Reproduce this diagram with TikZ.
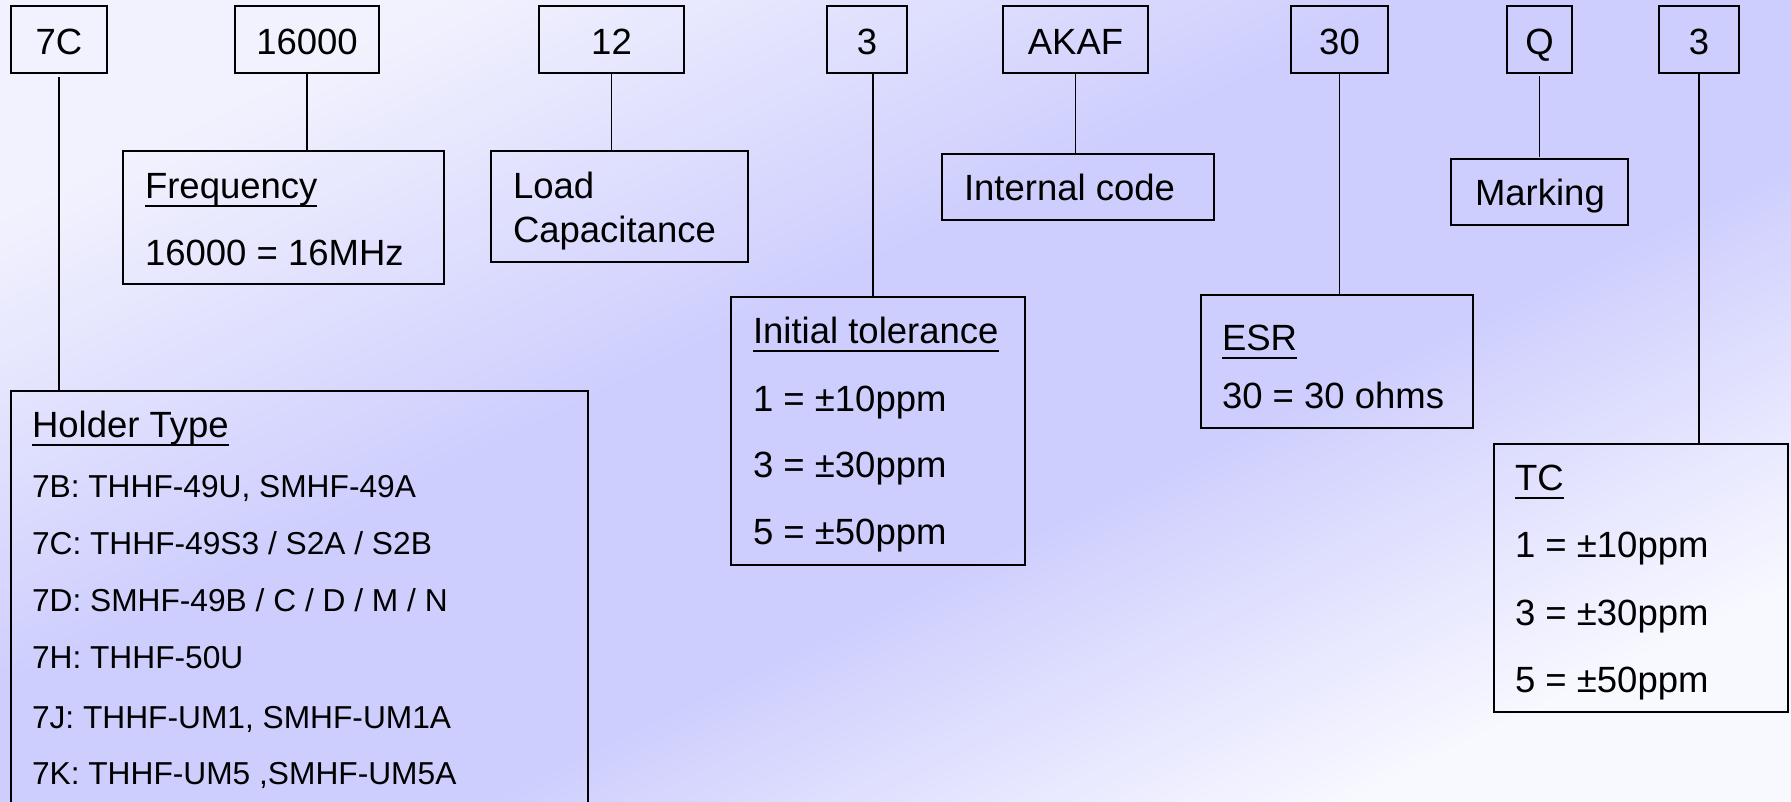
\documentclass[tikz,border=0pt]{standalone}
\usepackage{fontspec}
\setmainfont{Liberation Sans}
\definecolor{bgL}{RGB}{242,242,254}
\definecolor{bgM}{RGB}{206,206,254}
\definecolor{bgR}{RGB}{248,248,255}
\pgfdeclareverticalshading{bgshade}{100bp}{color(0bp)=(bgR); color(25bp)=(bgR); color(42bp)=(bgM); color(56bp)=(bgM); color(75bp)=(bgL); color(100bp)=(bgL)}
\newcommand{\ulx}[1]{\setbox0\hbox{#1}\rlap{\rule[-9pt]{\wd0}{2pt}}\box0}
\tikzset{
  box/.style={draw=black, line width=1.3pt, inner sep=0pt, outer sep=0pt, anchor=north west, rectangle},
  code/.style={box, minimum height=67pt, text height=29pt, text depth=0pt, font=\fontsize{36.5}{42}\selectfont},
  txt/.style={anchor=base west, inner sep=0pt, outer sep=0pt, font=\fontsize{36.5}{42}\selectfont},
  small/.style={anchor=base west, inner sep=0pt, outer sep=0pt, font=\fontsize{31.7}{38}\selectfont},
  conn/.style={draw=black, line width=1.1pt}
}
\begin{document}
\begin{tikzpicture}[x=1pt,y=-1pt]
\useasboundingbox (0,0) rectangle (1791,801);
\clip (0,0) rectangle (1791,801);
\shade[shading=bgshade, shading angle=26] (0,0) rectangle (1791,801);

% code boxes
\node[code, minimum width=96pt]  (t7C)    at (11,6)   {7C};
\node[code, minimum width=144pt] (t16000) at (235,6)  {16000};
\node[code, minimum width=145pt] (t12)    at (539,6)  {12};
\node[code, minimum width=80pt]  (t3a)    at (827,6)  {3};
\node[code, minimum width=145pt] (tAKAF)  at (1003,6) {AKAF};
\node[code, minimum width=97pt]  (t30)    at (1291,6) {30};
\node[code, minimum width=65pt]  (tQ)     at (1507,6) {Q};
\node[code, minimum width=80pt]  (t3b)    at (1659,6) {3};

% description boxes
\node[box, minimum width=321pt, minimum height=133pt] (freq)    at (123,151)  {};
\node[box, minimum width=257pt, minimum height=111pt] (load)    at (491,151)  {};
\node[box, minimum width=272pt, minimum height=66pt]  (intcode) at (942,154)  {};
\node[box, minimum width=177pt, minimum height=66pt]  (marking) at (1451,159) {};
\node[box, minimum width=294pt, minimum height=268pt] (init)    at (731,297)  {};
\node[box, minimum width=272pt, minimum height=133pt] (esr)     at (1201,295) {};
\node[box, minimum width=294pt, minimum height=268pt] (tc)      at (1494,444) {};
\node[box, minimum width=577pt, minimum height=430pt] (holder)  at (11,391)   {};

% texts
\node[txt] (freqH) at (145,198) {\ulx{Frequency}};
\node[txt] (freq1) at (145,265) {16000 = 16MHz};
\node[txt] (load1) at (513,198) {Load};
\node[txt] (load2) at (513,242) {Capacitance};
\node[txt] (int1)  at (964,200) {Internal code};
\node[txt] (mark1) at (1475,205) {Marking};
\node[txt] (initH) at (753,343) {\ulx{Initial tolerance}};
\node[txt] (init1) at (753,411) {1 = ±10ppm};
\node[txt] (init2) at (753,477) {3 = ±30ppm};
\node[txt] (init3) at (753,544) {5 = ±50ppm};
\node[txt] (esrH)  at (1222,350) {\ulx{ESR}};
\node[txt] (esr1)  at (1222,408) {30 = 30 ohms};
\node[txt] (tcH)   at (1515,490) {\ulx{TC}};
\node[txt] (tc1)   at (1515,557) {1 = ±10ppm};
\node[txt] (tc2)   at (1515,625) {3 = ±30ppm};
\node[txt] (tc3)   at (1515,692) {5 = ±50ppm};
\node[txt] (holdH) at (32,437) {\ulx{Holder Type}};
\node[small] (hold1) at (32,497) {7B: THHF-49U, SMHF-49A};
\node[small] (hold2) at (32,554) {7C: THHF-49S3 / S2A / S2B};
\node[small] (hold3) at (32,611) {7D: SMHF-49B / C / D / M / N};
\node[small] (hold4) at (32,668) {7H: THHF-50U};
\node[small] (hold5) at (32,728) {7J: THHF-UM1, SMHF-UM1A};
\node[small] (hold6) at (32,784) {7K: THHF-UM5 ,SMHF-UM5A};

% connector column for the off-centre line
\coordinate (c3a) at (873,0);

% connectors
\draw[conn, shorten <=4pt] (t7C.south) -- (t7C.south |- holder.north);
\draw[conn] (t16000.south) -- (t16000.south |- freq.north);
\draw[conn] (t12.south) -- (t12.south |- load.north);
\draw[conn] (t3a.south -| c3a) -- (init.north -| c3a);
\draw[conn] (tAKAF.south) -- (tAKAF.south |- intcode.north);
\draw[conn] (t30.south) -- (t30.south |- esr.north);
\draw[conn, shorten <=3pt, shorten >=2pt] (tQ.south) -- (tQ.south |- marking.north);
\draw[conn] (t3b.south) -- (t3b.south |- tc.north);
\end{tikzpicture}
\end{document}
